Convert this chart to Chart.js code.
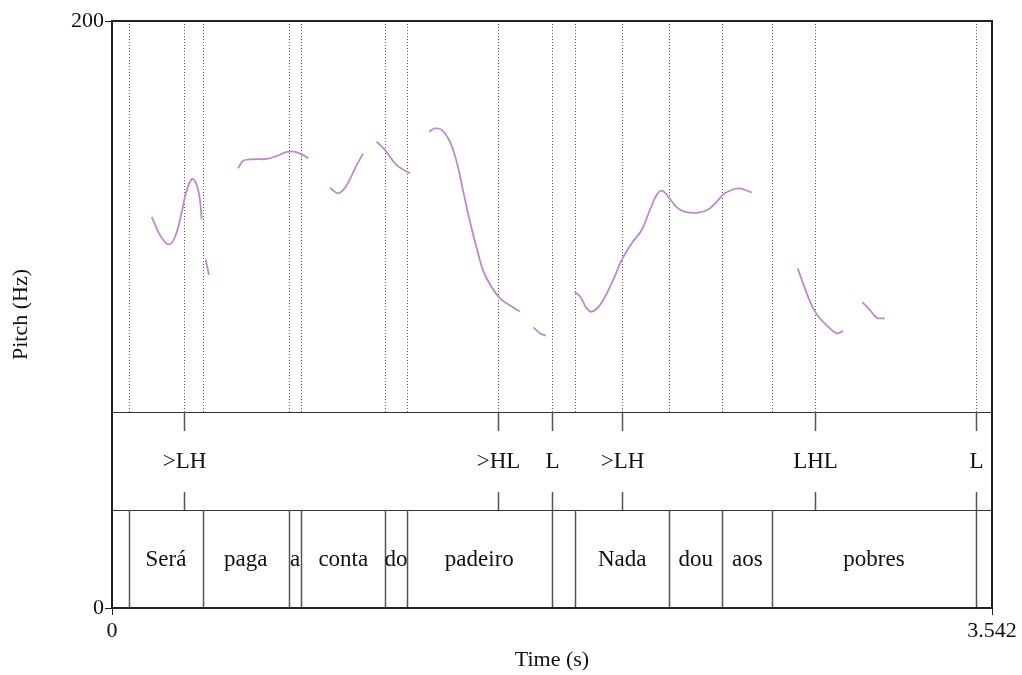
<!DOCTYPE html>
<html>
<head>
<meta charset="utf-8">
<script src="https://cdn.jsdelivr.net/npm/chart.js@4"></script>
<style>
  html, body { margin: 0; padding: 0; background: #fff; }
  #wrap { width: 1022px; height: 675px; }
</style>
</head>
<body>
<div id="wrap"><canvas id="pitchchart"></canvas></div>
<script>
// pitch track, seconds / Hz (null = unvoiced gap)
const pitchTimes = [
  0.160, 0.193, 0.227, 0.254, 0.281, 0.301, 0.323, 0.341, 0.354, 0.361, 0.361,
  0.377, 0.390, 0.390,
  0.508, 0.528, 0.569, 0.623, 0.663, 0.710, 0.750, 0.790, 0.790,
  0.877, 0.911, 0.945, 0.978, 1.011, 1.011,
  1.065, 1.099, 1.146, 1.199, 1.199,
  1.277, 1.300, 1.327, 1.360, 1.387, 1.414, 1.441, 1.468, 1.501, 1.555, 1.595, 1.642, 1.642,
  1.696, 1.723, 1.746, 1.746,
  1.861, 1.884, 1.911, 1.931, 1.964, 2.011, 2.052, 2.092, 2.132, 2.165, 2.192, 2.213,
  2.239, 2.273, 2.306, 2.360, 2.400, 2.434, 2.467, 2.521, 2.575, 2.575,
  2.760, 2.789, 2.816, 2.843, 2.883, 2.917, 2.943, 2.943,
  3.020, 3.051, 3.078, 3.111
];
const pitchHz = [
  133.3, 127.1, 123.9, 126.5, 135.0, 142.4, 146.2, 144.1, 139.0, 132.4, null,
  118.8, 113.5, null,
  149.8, 152.4, 152.9, 153.0, 154.0, 155.5, 155.1, 153.2, null,
  143.2, 141.3, 144.1, 149.8, 154.9, null,
  158.9, 156.0, 150.9, 148.1, null,
  162.3, 163.4, 162.9, 158.9, 152.1, 141.8, 131.6, 122.6, 113.5, 106.1, 103.5, 101.0, null,
  95.6, 93.6, 92.8, null,
  107.8, 106.1, 102.1, 101.0, 103.2, 110.6, 118.6, 124.3, 128.8, 135.6, 140.7, 142.2,
  140.1, 136.5, 135.0, 134.7, 135.8, 138.4, 141.3, 143.0, 141.6, null,
  115.7, 108.9, 103.2, 99.3, 95.8, 93.6, 94.4, null,
  104.2, 101.5, 98.9, 98.7
];

// tone tier (points)
const toneTimes = [0.291, 1.555, 1.770, 2.053, 2.831, 3.476];
const toneLabels = ['>LH', '>HL', 'L', '>LH', 'LHL', 'L'];

// word tier (interval boundaries + labels)
const wordBounds = [0.0696, 0.365, 0.712, 0.762, 1.100, 1.187, 1.770, 1.864, 2.243, 2.456, 2.658, 3.476];
const wordLabels = ['', 'Será', 'paga', 'a', 'conta', 'do', 'padeiro', '', 'Nada', 'dou', 'aos', 'pobres', ''];

const timeTicks = [0, 3.542];
const pitchTicks = [0, 200];

const serif = 'Liberation Serif';
Chart.defaults.font.family = serif;
Chart.defaults.color = '#111';

// praat-like tiers, dotted guide lines and frame
const tierPlugin = {
  id: 'tiers',
  beforeDatasetsDraw(chart) {
    const { ctx, chartArea: a, scales: { x } } = chart;
    const tierH = (a.bottom - a.top) * 0.167;
    const pitchBottom = a.bottom - 2 * tierH;
    const all = wordBounds.concat(toneTimes);
    ctx.save();
    ctx.strokeStyle = '#555';
    ctx.lineWidth = 1;
    ctx.setLineDash([1, 2]);
    all.forEach(t => {
      const px = Math.round(x.getPixelForValue(t)) + 0.5;
      ctx.beginPath();
      ctx.moveTo(px, a.top);
      ctx.lineTo(px, pitchBottom);
      ctx.stroke();
    });
    ctx.restore();
  },
  afterDatasetsDraw(chart) {
    const { ctx, chartArea: a, scales: { x } } = chart;
    const tierH = (a.bottom - a.top) * 0.167;
    const toneTop = a.bottom - 2 * tierH;
    const wordTop = a.bottom - tierH;
    ctx.save();
    ctx.fillStyle = '#fff';
    ctx.fillRect(a.left, toneTop, a.right - a.left, 2 * tierH);
    ctx.strokeStyle = '#333';
    ctx.lineWidth = 1;
    [toneTop, wordTop].forEach(y => {
      ctx.beginPath();
      ctx.moveTo(a.left, Math.round(y) + 0.5);
      ctx.lineTo(a.right, Math.round(y) + 0.5);
      ctx.stroke();
    });
    // tone tier: stubs + labels
    ctx.strokeStyle = '#555';
    ctx.lineWidth = 1.5;
    ctx.font = '23px ' + serif;
    ctx.fillStyle = '#111';
    ctx.textAlign = 'center';
    ctx.textBaseline = 'middle';
    toneTimes.forEach((t, i) => {
      const px = Math.round(x.getPixelForValue(t)) + 0.5;
      ctx.beginPath();
      ctx.moveTo(px, toneTop);
      ctx.lineTo(px, toneTop + 19);
      ctx.moveTo(px, wordTop - 18);
      ctx.lineTo(px, wordTop);
      ctx.stroke();
      ctx.fillText(toneLabels[i], px, toneTop + tierH / 2 + 1);
    });
    // word tier: boundaries + labels
    wordBounds.forEach(t => {
      const px = Math.round(x.getPixelForValue(t)) + 0.5;
      ctx.beginPath();
      ctx.moveTo(px, wordTop);
      ctx.lineTo(px, a.bottom);
      ctx.stroke();
    });
    const edges = [x.min].concat(wordBounds, [x.max]);
    wordLabels.forEach((w, i) => {
      if (!w) return;
      const mid = (x.getPixelForValue(edges[i]) + x.getPixelForValue(edges[i + 1])) / 2;
      ctx.fillText(w, mid, wordTop + tierH / 2 + 1);
    });
    // frame
    ctx.strokeStyle = '#222';
    ctx.lineWidth = 2;
    ctx.strokeRect(a.left, a.top, a.right - a.left, a.bottom - a.top);
    ctx.restore();
  }
};

const pitchdata = {
  datasets: [{
    label: 'Pitch',
    data: pitchTimes.map((t, i) => ({ x: t, y: pitchHz[i] })),
    borderColor: '#b98bc9',
    borderWidth: 1.8,
    pointRadius: 0,
    tension: 0.4,
    spanGaps: false
  }]
};

const pitchconfig = {
  type: 'line',
  data: pitchdata,
  options: {
    responsive: true,
    maintainAspectRatio: false,
    animation: false,
    layout: { padding: { left: 0, top: 21, right: 30, bottom: 0 } },
    plugins: { legend: { display: false }, tooltip: { enabled: false } },
    scales: {
      x: {
        type: 'linear',
        min: 0,
        max: 3.542,
        afterBuildTicks: s => { s.ticks = timeTicks.map(v => ({ value: v })); },
        afterFit: s => { s.height = 67; },
        ticks: { font: { size: 22 }, color: '#111', padding: 3, maxRotation: 0,
                 callback: v => String(v) },
        grid: { drawOnChartArea: false, tickLength: 7, color: '#222' },
        border: { display: false },
        title: { display: true, text: 'Time (s)', font: { size: 22 }, color: '#111', padding: { top: 0, bottom: 2 } }
      },
      y: {
        min: 0,
        max: 200,
        afterBuildTicks: s => { s.ticks = pitchTicks.map(v => ({ value: v })); },
        afterFit: s => { s.width = 112; },
        ticks: { font: { size: 22 }, color: '#111', padding: 1 },
        grid: { drawOnChartArea: false, tickLength: 7, color: '#222' },
        border: { display: false },
        title: { display: true, text: 'Pitch (Hz)', font: { size: 22 }, color: '#111', padding: { top: 8, bottom: 0 } }
      }
    }
  },
  plugins: [tierPlugin]
};

const pitchchart = new Chart(document.getElementById('pitchchart'), pitchconfig);
</script>
</body>
</html>
